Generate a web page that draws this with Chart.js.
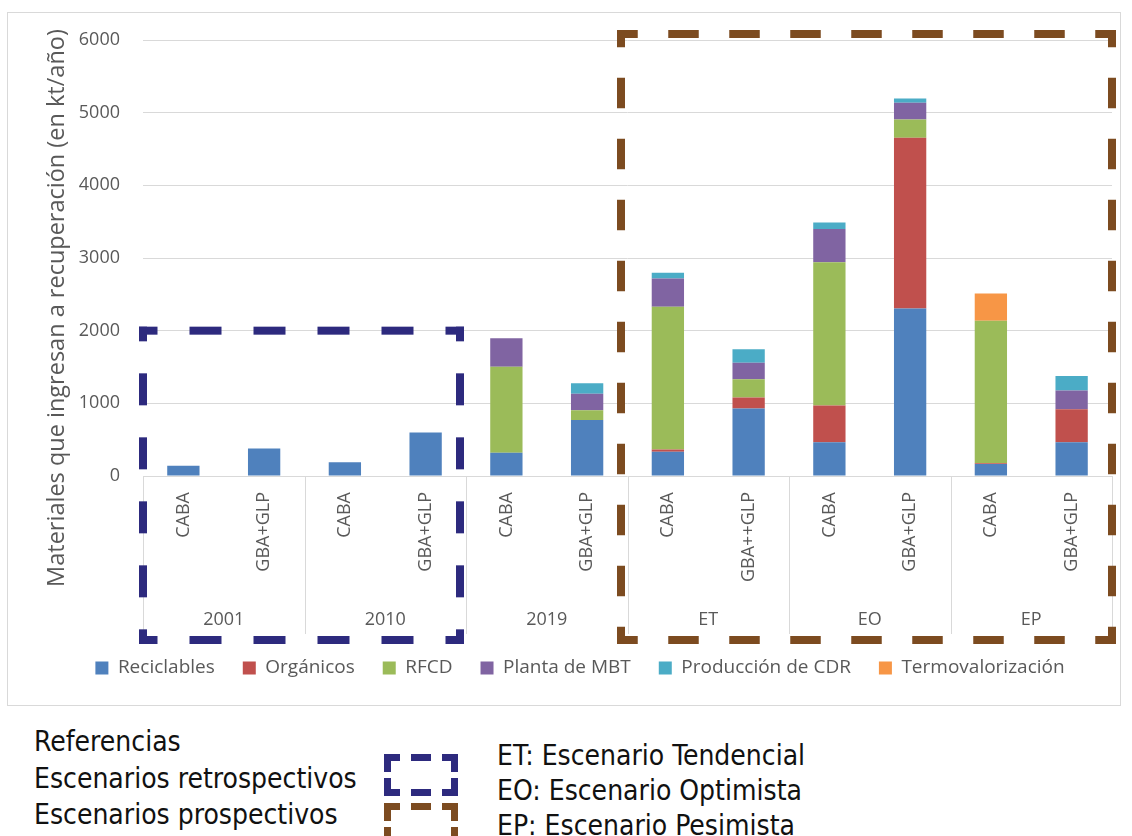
<!DOCTYPE html>
<html lang="es">
<head>
<meta charset="utf-8">
<title>Materiales que ingresan a recuperación</title>
<script src="https://cdn.jsdelivr.net/npm/chart.js@4.4.1/dist/chart.umd.min.js"></script>
<style>
  html, body { margin: 0; padding: 0; background: #fff; }
  body { width: 1132px; height: 836px; position: relative; overflow: hidden; }
  #chartBox { position: absolute; left: 7px; top: 12px; width: 1112px; height: 692px; border: 1px solid #d9d9d9; }
  .ref { position: absolute; font-family: 'DejaVu Sans Condensed', 'DejaVu Sans', sans-serif; font-stretch: condensed;
         font-size: 28px; line-height: 36px; color: #111; white-space: nowrap; }
  .icon { position: absolute; left: 384px; }
</style>
</head>
<body>
<div id="chartBox"><canvas id="chart"></canvas></div>

<div class="ref" style="left:34px; top:724px;">Referencias</div>
<div class="ref" style="left:34px; top:761px;">Escenarios retrospectivos</div>
<div class="ref" style="left:34px; top:797px;">Escenarios prospectivos</div>
<canvas class="icon" id="iconRetro" width="74" height="42" style="top:754px;"></canvas>
<canvas class="icon" id="iconProsp" width="74" height="42" style="top:803px;"></canvas>
<div class="ref" style="left:497px; top:738px;">ET: Escenario Tendencial</div>
<div class="ref" style="left:497px; top:773px;">EO: Escenario Optimista</div>
<div class="ref" style="left:497px; top:808px;">EP: Escenario Pesimista</div>

<script>
// ---------------------------------------------------------------------------
//  Data (kt/año)
// ---------------------------------------------------------------------------
const categories = ['CABA', 'GBA+GLP', 'CABA', 'GBA+GLP', 'CABA', 'GBA+GLP',
                    'CABA', 'GBA++GLP', 'CABA', 'GBA+GLP', 'CABA', 'GBA+GLP'];
const groups = ['2001', '2010', '2019', 'ET', 'EO', 'EP'];

const reciclables  = [140, 380, 190, 600, 320, 770, 335, 930, 465, 2305, 165, 465];
const organicos    = [0, 0, 0, 0, 0, 0, 28, 150, 505, 2350, 12, 455];
const rfcd         = [0, 0, 0, 0, 1185, 135, 1965, 250, 1970, 250, 1960, 0];
const plantaMBT    = [0, 0, 0, 0, 390, 228, 390, 228, 460, 230, 0, 255];
const produccionCDR = [0, 0, 0, 0, 0, 143, 78, 185, 87, 60, 0, 200];
const termo        = [0, 0, 0, 0, 0, 0, 0, 0, 0, 0, 375, 0];

const yMin = 0, yMax = 6000, yStep = 1000;
const yTitle = 'Materiales que ingresan a recuperación (en kt/año)';

const FONT = '"Open Sans", "Noto Sans", sans-serif';
const GREY_TEXT = '#595959';
const GRID = '#d9d9d9';
const NAVY = '#2d2a7e';
const BROWN = '#7c4b20';

// ---------------------------------------------------------------------------
//  Dashed "Office style" box: L-shaped corners, evenly spread dashes
// ---------------------------------------------------------------------------
function dashedBox(ctx, x0, y0, x1, y1, { dash, gap, vGap = gap, width, color }) {
  const h = width / 2;
  ctx.fillStyle = color;
  const side = (len, g, seg) => {
    const k = Math.max(0, Math.round((len - dash - g) / (dash + g)));
    const arm = (len - k * dash - (k + 1) * g) / 2;
    seg(-h, arm + h);
    for (let i = 0; i < k; i++) seg(arm + g + i * (dash + g), dash);
    seg(len - arm, arm + h);
  };
  side(x1 - x0, gap, (s, l) => {
    ctx.fillRect(x0 + s, y0 - h, l, width);
    ctx.fillRect(x0 + s, y1 - h, l, width);
  });
  side(y1 - y0, vGap, (s, l) => {
    ctx.fillRect(x0 - h, y0 + s, width, l);
    ctx.fillRect(x1 - h, y0 + s, width, l);
  });
}

// ---------------------------------------------------------------------------
//  Two-level category axis, y title and the scenario frames
// ---------------------------------------------------------------------------
const multiLevelAxis = {
  id: 'multiLevelAxis',
  afterDraw(chart) {
    const { ctx, scales: { x, y } } = chart;
    const catW = (x.right - x.left) / categories.length;
    const axisY = y.getPixelForValue(0);

    ctx.save();
    // group separators
    ctx.strokeStyle = GRID;
    ctx.lineWidth = 1;
    for (let g = 0; g <= groups.length; g++) {
      const px = Math.round(x.left + g * 2 * catW) + 0.5;
      ctx.beginPath();
      ctx.moveTo(px, axisY);
      ctx.lineTo(px, axisY + 158);
      ctx.stroke();
    }

    // rotated category labels
    ctx.fillStyle = GREY_TEXT;
    ctx.font = `18px ${FONT}`;
    categories.forEach((c, i) => {
      ctx.save();
      ctx.translate(x.getPixelForValue(i), axisY + 16);
      ctx.rotate(-Math.PI / 2);
      ctx.textAlign = 'right';
      ctx.textBaseline = 'middle';
      ctx.fillText(c, 0, 0);
      ctx.restore();
    });

    // group labels
    ctx.textAlign = 'center';
    ctx.textBaseline = 'middle';
    groups.forEach((g, i) => ctx.fillText(g, x.left + (2 * i + 1) * catW, axisY + 144));

    // y axis title
    ctx.save();
    ctx.font = `23.5px ${FONT}`;
    ctx.translate(49, 295);
    ctx.rotate(-Math.PI / 2);
    ctx.fillText(yTitle, 0, 0);
    ctx.restore();

    // retrospective / prospective frames
    const frameBottom = axisY + 164;
    dashedBox(ctx, x.left, y.getPixelForValue(2000), x.left + 4 * catW - 6, frameBottom,
      { dash: 32, gap: 32, width: 8, color: NAVY });
    dashedBox(ctx, x.left + 6 * catW - 6.5, y.getPixelForValue(6000) - 6, x.right, frameBottom,
      { dash: 30.5, gap: 30.5, width: 8, color: BROWN });
    ctx.restore();
  }
};

// ---------------------------------------------------------------------------
//  Chart
// ---------------------------------------------------------------------------
const makeSet = (label, data, color) => ({
  label, data, backgroundColor: color, borderColor: color, borderWidth: 0
});

new Chart(document.getElementById('chart').getContext('2d'), {
  type: 'bar',
  data: {
    labels: categories,
    datasets: [
      makeSet('Reciclables', reciclables, '#4f81bd'),
      makeSet('Orgánicos', organicos, '#c0504d'),
      makeSet('RFCD', rfcd, '#9bbb59'),
      makeSet('Planta de MBT', plantaMBT, '#8064a2'),
      makeSet('Producción de CDR', produccionCDR, '#4bacc6'),
      makeSet('Termovalorización', termo, '#f79646')
    ]
  },
  options: {
    responsive: true,
    maintainAspectRatio: false,
    animation: false,
    barPercentage: 0.4,
    categoryPercentage: 1.0,
    layout: { padding: { top: 27, right: 8, bottom: 17.5, left: 40 } },
    scales: {
      x: {
        stacked: true,
        ticks: { display: false },
        grid: { display: false },
        border: { display: false },
        afterFit: (scale) => { scale.height = 154.5; }
      },
      y: {
        stacked: true,
        min: yMin,
        max: yMax,
        ticks: {
          stepSize: yStep, padding: 0, color: GREY_TEXT, font: { family: FONT, size: 18 },
          callback: (value) => String(value)
        },
        // invisible tick marks give the label offset without padding the top
        grid: { color: GRID, drawTicks: true, tickLength: 23, tickColor: 'rgba(0,0,0,0)' },
        border: { display: false },
        afterFit: (scale) => { scale.width = 95; }
      }
    },
    plugins: {
      tooltip: { enabled: false },
      legend: {
        position: 'bottom',
        labels: {
          boxWidth: 13, boxHeight: 13, padding: 28,
          color: GREY_TEXT, font: { family: FONT, size: 19 }
        }
      }
    }
  },
  plugins: [multiLevelAxis]
});

// legend icons for the frames
const iconOpts = { dash: 20, gap: 11, vGap: 6, width: 7 };
dashedBox(document.getElementById('iconRetro').getContext('2d'), 3.5, 3.5, 70.5, 38.5, { ...iconOpts, color: NAVY });
dashedBox(document.getElementById('iconProsp').getContext('2d'), 3.5, 3.5, 70.5, 38.5, { ...iconOpts, color: BROWN });
</script>
</body>
</html>
